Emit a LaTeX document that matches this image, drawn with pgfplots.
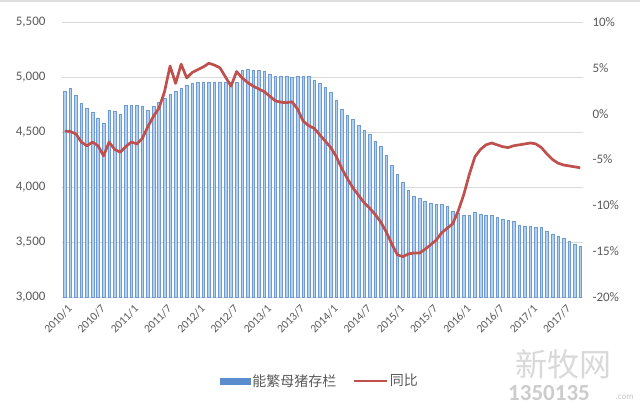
\documentclass[border=0pt]{standalone}
\usepackage{pgfplots}
\usepackage{pgfplotstable}
\pgfplotsset{compat=1.18}
\usepackage{fontspec}
\setmainfont{Carlito}
\newfontfamily\cjk{Noto Sans CJK SC}
\definecolor{barfill}{RGB}{178,208,240}
\definecolor{baredge}{RGB}{112,155,208}
\definecolor{legblue}{RGB}{91,140,205}
\definecolor{linered}{RGB}{192,80,77}
\definecolor{ticktext}{RGB}{89,89,89}
\definecolor{gridc}{RGB}{217,217,217}

\pgfplotstableread{
i sows yoy
0 4875 -1.9
1 4895 -1.95
2 4835 -2.2
3 4762 -3.1
4 4715 -3.5
5 4680 -3.1
6 4628 -3.5
7 4582 -4.6
8 4700 -3.1
9 4692 -3.9
10 4662 -4.2
11 4745 -3.6
12 4740 -3.1
13 4740 -3.3
14 4730 -2.7
15 4700 -1.4
16 4730 -0.3
17 4770 0.6
18 4810 2.4
19 4840 5.2
20 4868 3.3
21 4897 5.4
22 4921 3.9
23 4940 4.5
24 4948 4.8
25 4948 5.1
26 4948 5.5
27 4948 5.3
28 4948 5.0
29 4948 4.0
30 4948 3.0
31 4948 4.6
32 5060 3.9
33 5070 3.4
34 5065 3.0
35 5058 2.7
36 5050 2.4
37 5028 1.9
38 5008 1.4
39 5003 1.25
40 5003 1.2
41 4998 1.3
42 5003 0.5
43 5008 -0.8
44 5003 -1.3
45 4973 -1.6
46 4942 -2.3
47 4906 -3.0
48 4862 -3.7
49 4790 -4.7
50 4705 -6.0
51 4655 -7.1
52 4612 -8.1
53 4560 -8.9
54 4512 -9.7
55 4477 -10.3
56 4420 -11.0
57 4370 -11.8
58 4291 -12.9
59 4195 -14.2
60 4115 -15.4
61 4045 -15.6
62 3968 -15.3
63 3920 -15.2
64 3897 -15.2
65 3867 -14.8
66 3852 -14.3
67 3845 -13.8
68 3845 -13.0
69 3821 -12.5
70 3780 -12.0
71 3757 -10.6
72 3745 -8.8
73 3745 -6.6
74 3767 -4.7
75 3755 -3.9
76 3745 -3.4
77 3745 -3.2
78 3724 -3.4
79 3706 -3.6
80 3694 -3.7
81 3685 -3.5
82 3655 -3.4
83 3646 -3.3
84 3639 -3.2
85 3633 -3.3
86 3633 -3.7
87 3594 -4.4
88 3573 -5.0
89 3555 -5.4
90 3533 -5.6
91 3503 -5.7
92 3482 -5.8
93 3464 -5.9
}\data

\begin{document}
\begin{tikzpicture}
\path[use as bounding box] (-62pt,-111pt) rectangle (578pt,297pt);
\draw[gray!25, line width=2.5pt] (-62pt,296pt) -- (578pt,296pt);
\begin{axis}[
  at={(0pt,0pt)}, anchor=south west, scale only axis,
  width=521pt, height=275pt,
  xmin=-0.5, xmax=93.5, ymin=3000, ymax=5500,
  ytick={3000,3500,4000,4500,5000,5500},
  xtick={0,6,...,90},
  xticklabels={2010/1,2010/7,2011/1,2011/7,2012/1,2012/7,2013/1,2013/7,2014/1,2014/7,2015/1,2015/7,2016/1,2016/7,2017/1,2017/7},
  x tick label style={rotate=45, anchor=north east, font=\fontsize{11.5}{12}\selectfont, text=ticktext, yshift=-3pt},
  y tick label style={font=\fontsize{13}{13}\selectfont, text=ticktext, xshift=-13pt},
  /pgf/number format/1000 sep={,},
  /pgf/number format/assume math mode=true,
  ymajorgrids, grid style={gridc, line width=0.8pt},
  axis line style={draw=none},
  major tick length=0pt,
  ybar, bar width=2.6pt,
]
\addplot[fill=barfill, draw=baredge, line width=0.5pt] table[x=i,y=sows]{\data};
\end{axis}
\begin{axis}[
  at={(0pt,0pt)}, anchor=south west, scale only axis,
  width=521pt, height=275pt,
  xmin=-0.5, xmax=93.5, ymin=-20, ymax=10,
  ytick={-20,-15,-10,-5,0,5,10},
  axis y line*=right, axis x line=none,
  y axis line style={draw=none},
  major tick length=0pt,
  /pgf/number format/assume math mode=true,
  yticklabel={\pgfmathprintnumber{\tick}\%},
  y tick label style={font=\fontsize{13}{13}\selectfont, text=ticktext, xshift=6pt},
  legend style={at={(0.495,-0.305)}, anchor=center, legend columns=2, draw=none, fill=none,
    font=\cjk\fontsize{14}{14}\selectfont, text=ticktext,
    /tikz/every even column/.append style={column sep=14pt}},
]
\addlegendimage{legend image code/.code={\fill[legblue] (0pt,-3pt) rectangle (30pt,3pt);}}
\addlegendentry{能繁母猪存栏}
\addplot[linered, line width=2.7pt, line join=round,
  legend image code/.code={\draw[linered, line width=2.5pt] (0pt,0pt) -- (33pt,0pt);}]
  table[x=i,y=yoy]{\data};
\addlegendentry{同比}
\end{axis}
\node[text=gray!30, font=\cjk\fontsize{32}{32}\selectfont] at (501pt,-67pt) {新牧网};
\node[text=gray!40, font=\bfseries\fontsize{23}{23}\selectfont] at (487pt,-96pt) {1350135};
\node[text=gray!45, font=\fontsize{9}{9}\selectfont, anchor=west] at (550pt,-100pt) {.com};
\end{tikzpicture}
\end{document}
